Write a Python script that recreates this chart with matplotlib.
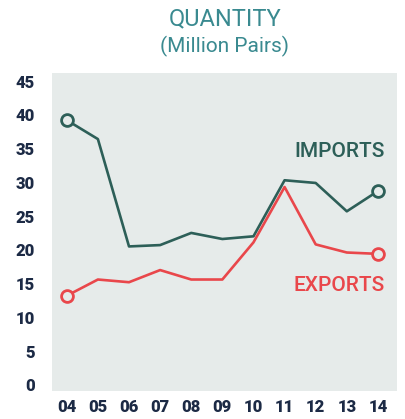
import matplotlib
matplotlib.use("Agg")
from matplotlib import pyplot as plt

years   = [4, 5, 6, 7, 8, 9, 10, 11, 12, 13, 14]
labels  = ['04', '05', '06', '07', '08', '09', '10', '11', '12', '13', '14']
imports = [39.2, 36.4, 20.5, 20.7, 22.5, 21.6, 22.0, 30.3, 29.9, 25.7, 28.7]
exports = [13.2, 15.6, 15.2, 17.0, 15.6, 15.6, 21.1, 29.3, 20.8, 19.6, 19.4]
yticks  = [0, 5, 10, 15, 20, 25, 30, 35, 40, 45]

teal = '#2d5f58'
red  = '#e9474b'
bg   = '#e6ebea'
navy = '#1c2a45'

plt.rcParams['font.family'] = ['Roboto', 'DejaVu Sans']

fig = plt.figure(figsize=(4.05, 4.19), dpi=100)
ax = fig.add_axes([0.128, 0.067, 0.852, 0.759])
ax.set_facecolor(bg)

ax.plot(years, imports, color=teal, lw=1.9, zorder=3)
ax.plot(years, exports, color=red, lw=1.9, zorder=3)
# hollow end markers
for ys, c in [(imports, teal), (exports, red)]:
    ax.plot([years[0], years[-1]], [ys[0], ys[-1]], 'o', ms=8.5, mfc=bg,
            mec=c, mew=2, zorder=4)

ax.text(14.22, 34.5, 'IMPORTS', color=teal, fontsize=15, fontweight='medium',
        ha='right', va='center')
ax.text(14.22, 14.7, 'EXPORTS', color=red, fontsize=15, fontweight='medium',
        ha='right', va='center')

ax.set_xlim(3.52, 14.61)
ax.set_ylim(-0.9, 46.2)
ax.set_xticks(years)
ax.set_xticklabels(labels)
ax.set_yticks(yticks)
for s in ax.spines.values():
    s.set_visible(False)
ax.tick_params(length=0, labelsize=12, labelcolor=navy, pad=6)
for t in ax.get_xticklabels() + ax.get_yticklabels():
    t.set_fontweight('black')
ax.tick_params(axis='y', pad=12)

fig.text(0.555, 0.955, 'QUANTITY', color='#3a8a90', fontsize=17,
         ha='center', va='center')
fig.text(0.555, 0.89, '(Million Pairs)', color='#3a8a90', fontsize=15,
         ha='center', va='center')

fig.savefig('out.png', dpi=100)
